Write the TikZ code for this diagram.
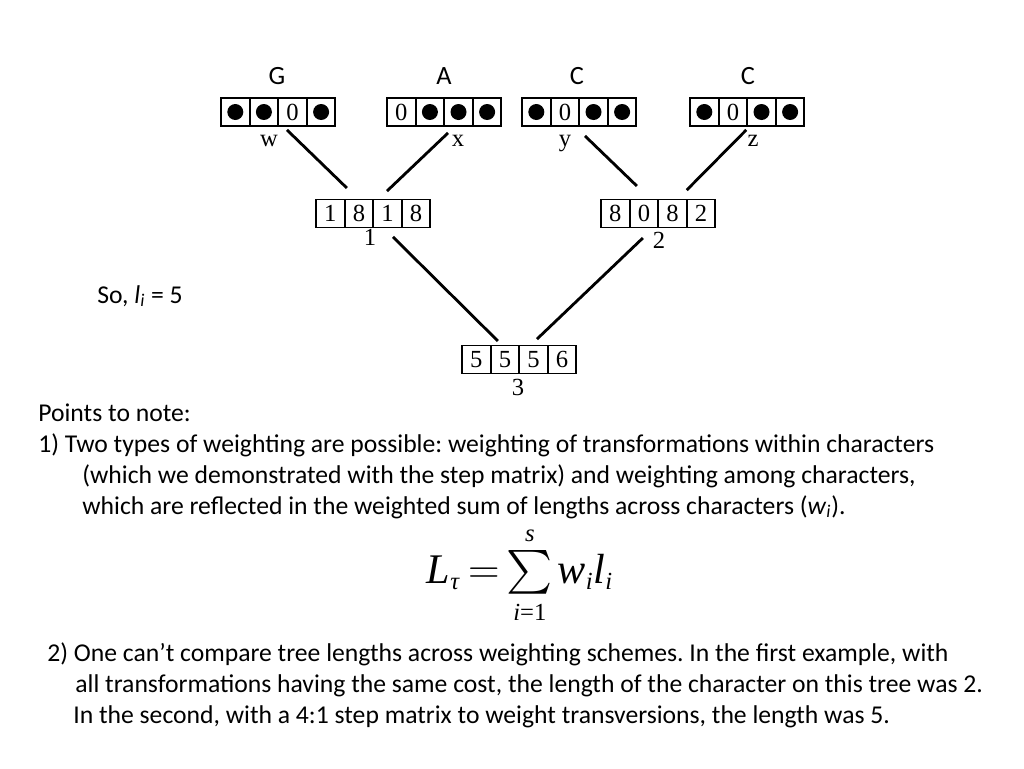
\documentclass[tikz,border=0pt]{standalone}
\usepackage{amsmath}
\usepackage{fontspec}
\setmainfont{Carlito}
\newfontfamily\serifdigits{Liberation Serif}
\usetikzlibrary{calc}
\frenchspacing
\newcommand{\limtext}[1]{\text{\fontsize{14}{14}\selectfont #1}}

\begin{document}
\begin{tikzpicture}[
  x=0.02cm,y=-0.02cm,
  font=\fontsize{14.6}{17}\selectfont,
  cell/.style={draw,line width=1.1pt,minimum width=0.572cm,minimum height=0.56cm,
    inner sep=0pt,font=\serifdigits\fontsize{14}{16}\selectfont},
  dotcell/.style={cell,path picture={\fill (path picture bounding box.center) circle (0.16cm);}},
  tag/.style={anchor=base,inner sep=1pt,font=\serifdigits\fontsize{14}{16}\selectfont},
  state/.style={anchor=base,inner sep=1pt,font=\fontsize{15}{17}\selectfont},
  branch/.style={line width=1.6pt},
  note/.style={anchor=base west,inner sep=0pt}
]
\useasboundingbox (0,0) rectangle (1024,768);

% leaf sequences
\foreach \s/\c [count=\k] in {dotcell/{},dotcell/{},cell/0,dotcell/{}}
  \node[\s] (w\k) at ({221+28.6*(\k-0.5)},112) {\c};
\foreach \s/\c [count=\k] in {cell/0,dotcell/{},dotcell/{},dotcell/{}}
  \node[\s] (x\k) at ({387+28.6*(\k-0.5)},112) {\c};
\foreach \s/\c [count=\k] in {dotcell/{},cell/0,dotcell/{},dotcell/{}}
  \node[\s] (y\k) at ({522+28.6*(\k-0.5)},112) {\c};
\foreach \s/\c [count=\k] in {dotcell/{},cell/0,dotcell/{},dotcell/{}}
  \node[\s] (z\k) at ({690+28.6*(\k-0.5)},112) {\c};

\node[state] (statew) at (277,84) {G};
\node[state] (statex) at (444,84) {A};
\node[state] (statey) at (577,84) {C};
\node[state] (statez) at (748,84) {C};

\node[tag] (tagw) at (269,146) {w};
\node[tag] (tagx) at (458,146) {x};
\node[tag] (tagy) at (565,146) {y};
\node[tag] (tagz) at (753,146) {z};

% internal nodes
\foreach \c [count=\k] in {1,8,1,8}
  \node[cell] (a\k) at ({316+28.6*(\k-0.5)},213.5) {\c};
\foreach \c [count=\k] in {8,0,8,2}
  \node[cell] (b\k) at ({601+28.6*(\k-0.5)},213.5) {\c};
\foreach \c [count=\k] in {5,5,5,6}
  \node[cell] (r\k) at ({462+28.6*(\k-0.5)},359.5) {\c};

\node[tag] (taga) at (370,245) {1};
\node[tag] (tagb) at (659,248) {2};
\node[tag] (tagr) at (518,395) {3};

% branches
\draw[branch] ($(w3.south)+(-5.5,3)$) -- ($(a2.north)+(-12,-10.5)$);
\draw[branch] ($(x3.south)+(-10.5,6)$) -- ($(a3.north)+(-0.5,-7.5)$);
\draw[branch] ($(y3.south)+(-8.5,9)$) -- ($(b2.north)+(-7,-12.5)$);
\draw[branch] ($(z3.south west)+(0,3)$) -- ($(b3.north east)+(-1,-8.5)$);
\draw[branch] ($(a3.south)+(5.5,8.5)$) -- ($(r2.north)+(-7,-3.5)$);
\draw[branch] ($(b2.south)+(-1,9.5)$) -- ($(r3.north)+(3.5,-5.5)$);

\node[note] (solen) at (97,303) {So, \textit{l}\textsubscript{\textit{i}} = 5};

% notes
\node[note] (note0) at (38,421) {Points to note:};
\node[note] (note1) at (38,452) {1) Two types of weighting are possible: weighting of transformations within characters};
\node[note] (note2) at (82,483) {(which we demonstrated with the step matrix) and weighting among characters,};
\node[note] (note3) at (82,514) {which are reflected in the weighted sum of lengths across characters (\textit{w}\textsubscript{\textit{i}}).};

\node[anchor=base,inner sep=0pt,font=\serifdigits\fontsize{24}{28}\selectfont] (sumlen) at (520,583)
  {$\textit{L}_{\limtext{\textit{τ}}}\mkern3mu{=}\sum\limits_{\limtext{\textit{i}=1}}^{\limtext{\textit{s}}}\mkern-1mu\textit{w}_{\limtext{\textit{i}}}\textit{l}_{\limtext{\textit{i}}}$};

\node[note] (note4) at (47,661) {2) One can’t compare tree lengths across weighting schemes. In the first example, with};
\node[note] (note5) at (75,692) {all transformations having the same cost, the length of the character on this tree was 2.};
\node[note] (note6) at (73,723) {In the second, with a 4:1 step matrix to weight transversions, the length was 5.};
\end{tikzpicture}
\end{document}
